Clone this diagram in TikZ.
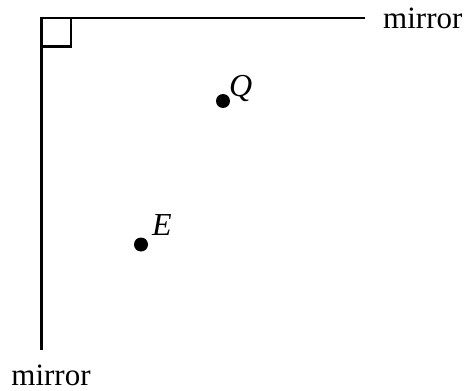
\documentclass[tikz,border=0pt]{standalone}
\usepackage{fontspec}
\setmainfont{Liberation Serif}
\tikzset{
  mirrorline/.style={line width=2.6pt},
  dotnode/.style={circle,fill=black,inner sep=0pt,minimum size=14pt},
  lbl/.style={inner sep=0pt,font=\fontsize{31}{36}\selectfont},
  ptlbl/.style={inner sep=0pt,font=\fontsize{32}{36}\selectfont\itshape}
}
\begin{document}
\begin{tikzpicture}[x=1pt,y=-1pt]
\useasboundingbox (0,0) rectangle (467,391);
\coordinate (corner) at (41.5,18);
\coordinate (topend) at (365,18);
\coordinate (botend) at (41.5,350);
\draw[mirrorline] (topend) -- (corner) -- (botend);
\draw[line width=2.6pt] (corner) rectangle (71,46.5);
\node[lbl,anchor=base west] (m1) at (383,28) {mirror};
\node[lbl,anchor=base] (m2) at (51,385) {mirror};
\node[dotnode] (Q) at (223,101) {};
\node[ptlbl,anchor=base west] (Ql) at (229,96) {Q};
\node[dotnode] (E) at (141,244.5) {};
\node[ptlbl,anchor=base west] (El) at (152,235) {E};
\end{tikzpicture}
\end{document}
